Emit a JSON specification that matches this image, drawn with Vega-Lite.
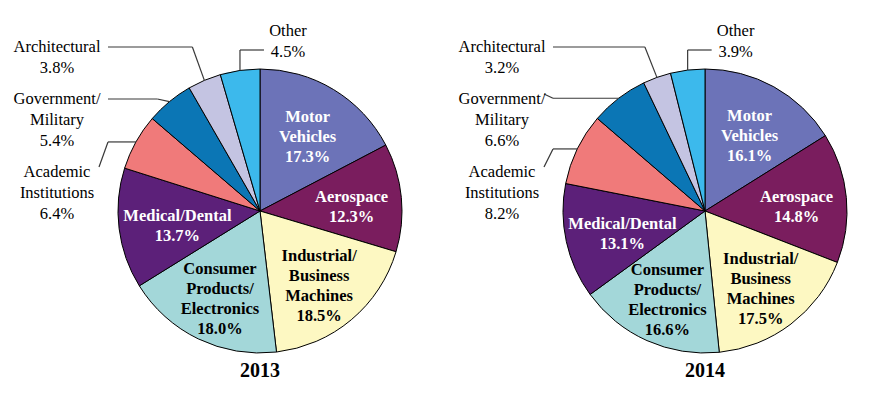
{
  "$schema": "https://vega.github.io/schema/vega-lite/v6.json",
  "padding": {"left": 0, "top": 0, "right": -19, "bottom": -27},
  "spacing": 0,
  "bounds": "flush",
  "config": {"view": {"stroke": null}, "font": "Liberation Serif", "title": {"font": "Liberation Serif"}, "text": {"font": "Liberation Serif"}},
  "datasets": {
    "shares": [
      {"year": 2013, "ord": 1, "cat": "Motor|Vehicles", "share": 17.3},
      {"year": 2013, "ord": 2, "cat": "Aerospace", "share": 12.3},
      {"year": 2013, "ord": 3, "cat": "Industrial/|Business|Machines", "share": 18.5},
      {"year": 2013, "ord": 4, "cat": "Consumer|Products/|Electronics", "share": 18.0},
      {"year": 2013, "ord": 5, "cat": "Medical/Dental", "share": 13.7},
      {"year": 2013, "ord": 6, "cat": "Academic|Institutions", "share": 6.4},
      {"year": 2013, "ord": 7, "cat": "Government/|Military", "share": 5.4},
      {"year": 2013, "ord": 8, "cat": "Architectural", "share": 3.8},
      {"year": 2013, "ord": 9, "cat": "Other", "share": 4.5},
      {"year": 2014, "ord": 1, "cat": "Motor|Vehicles", "share": 16.1},
      {"year": 2014, "ord": 2, "cat": "Aerospace", "share": 14.8},
      {"year": 2014, "ord": 3, "cat": "Industrial/|Business|Machines", "share": 17.5},
      {"year": 2014, "ord": 4, "cat": "Consumer|Products/|Electronics", "share": 16.6},
      {"year": 2014, "ord": 5, "cat": "Medical/Dental", "share": 13.1},
      {"year": 2014, "ord": 6, "cat": "Academic|Institutions", "share": 8.2},
      {"year": 2014, "ord": 7, "cat": "Government/|Military", "share": 6.6},
      {"year": 2014, "ord": 8, "cat": "Architectural", "share": 3.2},
      {"year": 2014, "ord": 9, "cat": "Other", "share": 3.9}
    ]
  },
  "hconcat": [
    {
      "width": 520,
      "height": 422,
      "data": {"name": "shares"},
      "title": {"text": "2013", "orient": "bottom", "fontSize": 20, "fontWeight": "bold", "offset": -61, "color": "black"},
      "transform": [
        {"filter": "datum.year === 2013"},
        {"joinaggregate": [{"op": "sum", "field": "share", "as": "total"}]},
        {"window": [{"op": "sum", "field": "share", "as": "cum"}], "sort": [{"field": "ord", "order": "ascending"}], "frame": [null, 0]},
        {"calculate": "2 * PI * (datum.cum - datum.share / 2) / datum.total", "as": "mid"},
        {"calculate": "142 * sin(datum.mid)", "as": "ex"},
        {"calculate": "-142 * cos(datum.mid)", "as": "ey"},
        {"calculate": "datum.share < 10 ? (datum.mid > 6.02 ? 'top' : 'left') : 'in'", "as": "pos"},
        {"calculate": "datum.cat + '|' + format(datum.share, '.1f') + '%'", "as": "txt"},
        {"calculate": "(indexof(datum.cat, '|') >= 0 ? 1 : 0) + (lastindexof(datum.cat, '|') > indexof(datum.cat, '|') ? 1 : 0) + 2", "as": "nl"},
        {"calculate": "datum.nl * 21 + 10", "as": "blockh"},
        {"calculate": "min(92, (140 - 4.1 * (datum.nl === 2 ? length(datum.cat) : 11)) / max(abs(sin(datum.mid)), 0.01))", "as": "ir"},
        {"calculate": "datum.ir * sin(datum.mid)", "as": "ix"},
        {"calculate": "-datum.ir * cos(datum.mid) + 5 - (datum.nl - 1) * 10", "as": "iy"},
        {"window": [{"op": "sum", "field": "blockh", "as": "cumh"}], "groupby": ["pos"], "sort": [{"field": "mid", "order": "descending"}], "frame": [null, 0]},
        {"calculate": "datum.pos === 'top' ? -180 : -164 + datum.cumh - datum.blockh", "as": "ly"},
        {"calculate": "datum.pos === 'top' ? datum.ex + 48 : -203", "as": "lx"},
        {"calculate": "datum.pos === 'top' ? datum.ex + 24 : (datum.ly > datum.ey ? -161 : -152)", "as": "ax"},
        {"calculate": "datum.pos === 'top' ? datum.ly + 19 : (datum.ly > datum.ey ? datum.ly - 5 : datum.ly)", "as": "ay"},
        {"calculate": "datum.pos === 'top' ? datum.ex : (datum.ly > datum.ey ? -152 : datum.ex - 12)", "as": "bx"},
        {"calculate": "datum.pos === 'top' ? datum.ly + 19 : (datum.ly > datum.ey ? datum.ey : datum.ly)", "as": "by"}
      ],
      "layer": [
        {
          "mark": {"type": "arc", "outerRadius": 142, "stroke": "black", "strokeWidth": 1},
          "encoding": {
            "theta": {"field": "share", "type": "quantitative", "stack": true},
            "order": {"field": "ord", "type": "quantitative"},
            "color": {
              "field": "cat", "type": "nominal", "legend": null,
              "scale": {
                "domain": ["Motor|Vehicles", "Aerospace", "Industrial/|Business|Machines", "Consumer|Products/|Electronics", "Medical/Dental", "Academic|Institutions", "Government/|Military", "Architectural", "Other"],
                "range": ["#6c73b8", "#7a1d5e", "#fdf8c2", "#a3d7d9", "#5c2079", "#f07a7a", "#0b76b5", "#c4c4e2", "#3cb9ec"]
              }
            }
          }
        },
        {
          "transform": [{"filter": "datum.pos === 'in'"}],
          "mark": {"type": "text", "font": "Liberation Serif", "fontSize": 16.5, "fontWeight": "bold", "lineBreak": "|", "lineHeight": 20, "align": "center", "baseline": "middle"},
          "encoding": {
            "x": {"field": "ix", "type": "quantitative", "scale": {"domain": [-260, 260], "nice": false, "zero": false}, "axis": null},
            "y": {"field": "iy", "type": "quantitative", "scale": {"domain": [-211, 211], "nice": false, "zero": false, "reverse": true}, "axis": null},
            "text": {"field": "txt"},
            "color": {"condition": {"test": "datum.ord === 3 || datum.ord === 4", "value": "black"}, "value": "white"}
          }
        },
        {
          "transform": [{"filter": "datum.pos !== 'in'"}],
          "mark": {"type": "rule", "color": "#383838", "strokeWidth": 1.2},
          "encoding": {
            "x": {"field": "ax", "type": "quantitative"},
            "y": {"field": "ay", "type": "quantitative"},
            "x2": {"field": "bx"},
            "y2": {"field": "by"}
          }
        },
        {
          "transform": [{"filter": "datum.pos !== 'in'"}],
          "mark": {"type": "rule", "color": "#383838", "strokeWidth": 1.2},
          "encoding": {
            "x": {"field": "bx", "type": "quantitative"},
            "y": {"field": "by", "type": "quantitative"},
            "x2": {"field": "ex"},
            "y2": {"field": "ey"}
          }
        },
        {
          "transform": [{"filter": "datum.pos !== 'in'"}],
          "mark": {"type": "text", "font": "Liberation Serif", "fontSize": 16.5, "lineBreak": "|", "lineHeight": 21, "align": "center", "baseline": "middle", "color": "black"},
          "encoding": {
            "x": {"field": "lx", "type": "quantitative"},
            "y": {"field": "ly", "type": "quantitative"},
            "text": {"field": "txt"}
          }
        }
      ]
    },
    {
      "width": 370,
      "height": 422,
      "data": {"name": "shares"},
      "title": {"text": "2014", "orient": "bottom", "fontSize": 20, "fontWeight": "bold", "offset": -61, "color": "black"},
      "transform": [
        {"filter": "datum.year === 2014"},
        {"joinaggregate": [{"op": "sum", "field": "share", "as": "total"}]},
        {"window": [{"op": "sum", "field": "share", "as": "cum"}], "sort": [{"field": "ord", "order": "ascending"}], "frame": [null, 0]},
        {"calculate": "2 * PI * (datum.cum - datum.share / 2) / datum.total", "as": "mid"},
        {"calculate": "142 * sin(datum.mid)", "as": "ex"},
        {"calculate": "-142 * cos(datum.mid)", "as": "ey"},
        {"calculate": "datum.share < 10 ? (datum.mid > 6.02 ? 'top' : 'left') : 'in'", "as": "pos"},
        {"calculate": "datum.cat + '|' + format(datum.share, '.1f') + '%'", "as": "txt"},
        {"calculate": "(indexof(datum.cat, '|') >= 0 ? 1 : 0) + (lastindexof(datum.cat, '|') > indexof(datum.cat, '|') ? 1 : 0) + 2", "as": "nl"},
        {"calculate": "datum.nl * 21 + 10", "as": "blockh"},
        {"calculate": "min(92, (140 - 4.1 * (datum.nl === 2 ? length(datum.cat) : 11)) / max(abs(sin(datum.mid)), 0.01))", "as": "ir"},
        {"calculate": "datum.ir * sin(datum.mid)", "as": "ix"},
        {"calculate": "-datum.ir * cos(datum.mid) + 5 - (datum.nl - 1) * 10", "as": "iy"},
        {"window": [{"op": "sum", "field": "blockh", "as": "cumh"}], "groupby": ["pos"], "sort": [{"field": "mid", "order": "descending"}], "frame": [null, 0]},
        {"calculate": "datum.pos === 'top' ? -180 : -164 + datum.cumh - datum.blockh", "as": "ly"},
        {"calculate": "datum.pos === 'top' ? datum.ex + 48 : -203", "as": "lx"},
        {"calculate": "datum.pos === 'top' ? datum.ex + 24 : (datum.ly > datum.ey ? -161 : -152)", "as": "ax"},
        {"calculate": "datum.pos === 'top' ? datum.ly + 19 : (datum.ly > datum.ey ? datum.ly - 5 : datum.ly)", "as": "ay"},
        {"calculate": "datum.pos === 'top' ? datum.ex : (datum.ly > datum.ey ? -152 : datum.ex - 12)", "as": "bx"},
        {"calculate": "datum.pos === 'top' ? datum.ly + 19 : (datum.ly > datum.ey ? datum.ey : datum.ly)", "as": "by"}
      ],
      "layer": [
        {
          "mark": {"type": "arc", "outerRadius": 142, "stroke": "black", "strokeWidth": 1},
          "encoding": {
            "theta": {"field": "share", "type": "quantitative", "stack": true},
            "order": {"field": "ord", "type": "quantitative"},
            "color": {
              "field": "cat", "type": "nominal", "legend": null,
              "scale": {
                "domain": ["Motor|Vehicles", "Aerospace", "Industrial/|Business|Machines", "Consumer|Products/|Electronics", "Medical/Dental", "Academic|Institutions", "Government/|Military", "Architectural", "Other"],
                "range": ["#6c73b8", "#7a1d5e", "#fdf8c2", "#a3d7d9", "#5c2079", "#f07a7a", "#0b76b5", "#c4c4e2", "#3cb9ec"]
              }
            }
          }
        },
        {
          "transform": [{"filter": "datum.pos === 'in'"}],
          "mark": {"type": "text", "font": "Liberation Serif", "fontSize": 16.5, "fontWeight": "bold", "lineBreak": "|", "lineHeight": 20, "align": "center", "baseline": "middle"},
          "encoding": {
            "x": {"field": "ix", "type": "quantitative", "scale": {"domain": [-185, 185], "nice": false, "zero": false}, "axis": null},
            "y": {"field": "iy", "type": "quantitative", "scale": {"domain": [-211, 211], "nice": false, "zero": false, "reverse": true}, "axis": null},
            "text": {"field": "txt"},
            "color": {"condition": {"test": "datum.ord === 3 || datum.ord === 4", "value": "black"}, "value": "white"}
          }
        },
        {
          "transform": [{"filter": "datum.pos !== 'in'"}],
          "mark": {"type": "rule", "color": "#383838", "strokeWidth": 1.2},
          "encoding": {
            "x": {"field": "ax", "type": "quantitative"},
            "y": {"field": "ay", "type": "quantitative"},
            "x2": {"field": "bx"},
            "y2": {"field": "by"}
          }
        },
        {
          "transform": [{"filter": "datum.pos !== 'in'"}],
          "mark": {"type": "rule", "color": "#383838", "strokeWidth": 1.2},
          "encoding": {
            "x": {"field": "bx", "type": "quantitative"},
            "y": {"field": "by", "type": "quantitative"},
            "x2": {"field": "ex"},
            "y2": {"field": "ey"}
          }
        },
        {
          "transform": [{"filter": "datum.pos !== 'in'"}],
          "mark": {"type": "text", "font": "Liberation Serif", "fontSize": 16.5, "lineBreak": "|", "lineHeight": 21, "align": "center", "baseline": "middle", "color": "black"},
          "encoding": {
            "x": {"field": "lx", "type": "quantitative"},
            "y": {"field": "ly", "type": "quantitative"},
            "text": {"field": "txt"}
          }
        }
      ]
    }
  ]
}
